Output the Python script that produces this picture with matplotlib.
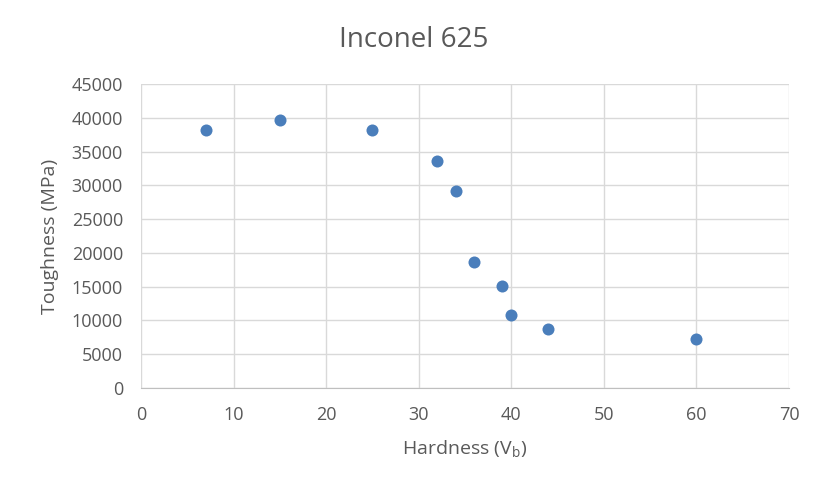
import matplotlib
matplotlib.use("Agg")
import matplotlib.pyplot as plt

# data
hardness = [7, 15, 25, 32, 34, 36, 39, 40, 44, 60]
toughness = [38200, 39700, 38200, 33600, 29100, 18600, 15100, 10800, 8800, 7250]

xticks = [0, 10, 20, 30, 40, 50, 60, 70]
yticks = [0, 5000, 10000, 15000, 20000, 25000, 30000, 35000, 40000, 45000]

plt.rcParams['font.family'] = ['Open Sans', 'DejaVu Sans']
txt = '#595959'

fig = plt.figure(figsize=(8.25, 4.84), dpi=100)
ax = fig.add_axes([141/825, 1-388/484, 648/825, 304/484])

ax.scatter(hardness, toughness, s=75, color='#4a7ebb', zorder=3, linewidths=0)

ax.set_xlim(0, 70)
ax.set_ylim(0, 45000)
ax.set_xticks(xticks)
ax.set_yticks(yticks)
ax.grid(True, color='#d9d9d9', lw=1)
ax.set_axisbelow(True)
for s in ['top', 'right', 'left']:
    ax.spines[s].set_visible(False)
ax.spines['bottom'].set_color('#bfbfbf')
ax.tick_params(length=0, labelsize=13, colors=txt, pad=13)

# title and axis titles placed on the figure
fig.text(414/825, 1-47/484, "Inconel 625", fontsize=20, color=txt, ha='center', va='baseline')
fig.text(465/825, 1-455/484, "Hardness (V$_\\mathregular{b}$)", fontsize=14, color=txt,
         ha='center', va='baseline')
fig.text(50/825, 1-236/484, "Toughness (MPa)", fontsize=14, color=txt,
         ha='center', va='center', rotation=90)

fig.savefig("out.png", dpi=100)
